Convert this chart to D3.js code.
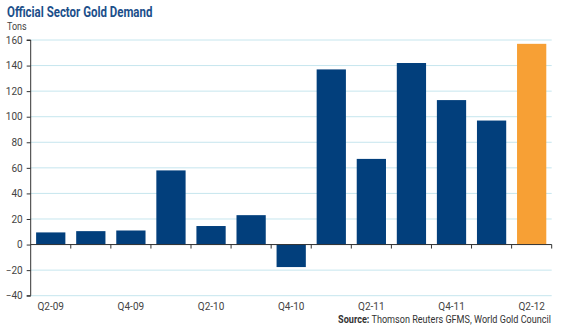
<!DOCTYPE html>
<html>
<head>
<meta charset="utf-8">
<script src="https://cdnjs.cloudflare.com/ajax/libs/d3/7.8.5/d3.min.js"></script>
<style>
  body { margin: 0; background: #fff; }
  svg { display: block; font-family: "Liberation Sans Narrow", "Roboto", sans-serif; }
</style>
</head>
<body>
<div id="chart"></div>
<script>
// Quarterly official sector gold demand, tons
var quarters = ['Q2-09', 'Q3-09', 'Q4-09', 'Q1-10', 'Q2-10', 'Q3-10', 'Q4-10',
                'Q1-11', 'Q2-11', 'Q3-11', 'Q4-11', 'Q1-12', 'Q2-12'];
var tons = [9.5, 10.5, 11, 58, 14.5, 23, -17.6, 137, 67, 142, 113, 97, 157];
var yTicks = [-40, -20, 0, 20, 40, 60, 80, 100, 120, 140, 160];
var xLabels = ['Q2-09', 'Q4-09', 'Q2-10', 'Q4-10', 'Q2-11', 'Q4-11', 'Q2-12'];

var WIDTH = 565, HEIGHT = 330;
var margin = {top: 40, right: 13.3, bottom: 34.3, left: 30.7};
var w = WIDTH - margin.left - margin.right;
var h = HEIGHT - margin.top - margin.bottom;

var svg = d3.select('#chart').append('svg')
  .attr('width', WIDTH)
  .attr('height', HEIGHT);

// Title and unit (squeezed horizontally, condensed look)
svg.append('text')
  .attr('transform', 'translate(7, 17) scale(0.82, 1)')
  .style('font-size', '14px').style('font-weight', 'bold')
  .style('fill', '#1c4f8a')
  .text('Official Sector Gold Demand');
svg.append('text')
  .attr('transform', 'translate(7, 30) scale(0.9, 1)')
  .style('font-size', '10px').style('fill', '#444')
  .text('Tons');

var g = svg.append('g')
  .attr('transform', `translate(${margin.left}, ${margin.top})`);

var x = d3.scaleBand().domain(quarters).range([0, w]).paddingInner(0.27).paddingOuter(0.135);
var y = d3.scaleLinear().domain([-40, 160]).range([h, 0]);

// Horizontal grid
g.append('g')
  .selectAll('line')
  .data(yTicks)
  .enter().append('line')
  .attr('x1', 0).attr('x2', w)
  .attr('y1', (d) => y(d)).attr('y2', (d) => y(d))
  .style('stroke', '#c6e6ee')
  .style('stroke-width', 1);

// Bars, the latest quarter highlighted
g.selectAll('rect')
  .data(tons)
  .enter().append('rect')
  .attr('x', (d, i) => x(quarters[i]))
  .attr('width', x.bandwidth())
  .attr('y', (d) => y(Math.max(0, d)))
  .attr('height', (d) => Math.abs(y(d) - y(0)))
  .style('fill', (d, i) => i === quarters.length - 1 ? '#f7a035' : '#023f7c');

// Y axis
var yAxis = d3.axisLeft(y).tickValues(yTicks).tickSize(4).tickPadding(4);
g.append('g')
  .attr('class', 'y axis')
  .call(yAxis)
  .call((a) => a.select('.domain').attr('d', `M-4,${y(160)}H0V${y(-40)}H-4`));

// Zero line with category boundary ticks
var step = x.step();
var bounds = d3.range(1, quarters.length + 1).map((i) => i * step);
var zero = g.append('g').attr('transform', `translate(0, ${y(0)})`);
zero.append('line')
  .attr('x1', 0).attr('x2', w)
  .style('stroke', '#333').style('stroke-width', 1);
zero.selectAll('.tk')
  .data(bounds)
  .enter().append('line')
  .attr('class', 'tk')
  .attr('x1', (d) => d).attr('x2', (d) => d)
  .attr('y1', 0).attr('y2', 4)
  .style('stroke', '#333');

g.selectAll('.y.axis line, .y.axis path').style('stroke', '#333');
g.selectAll('.y.axis text').style('font-size', '10px').style('fill', '#444')
  .style('font-family', '"Liberation Sans Narrow", "Roboto", sans-serif');

// Category labels every second quarter
g.append('g')
  .selectAll('text')
  .data(xLabels)
  .enter().append('text')
  .attr('x', (d) => x(d) + x.bandwidth() / 2)
  .attr('y', h + 14)
  .attr('text-anchor', 'middle')
  .style('font-size', '10px').style('fill', '#444')
  .text((d) => d);

// Source line
var src = svg.append('text')
  .attr('transform', 'translate(551, 323) scale(0.866, 1)')
  .attr('text-anchor', 'end')
  .style('font-size', '10.5px').style('fill', '#333');
src.append('tspan').style('font-weight', 'bold').text('Source:');
src.append('tspan').text(' Thomson Reuters GFMS, World Gold Council');
</script>
</body>
</html>
